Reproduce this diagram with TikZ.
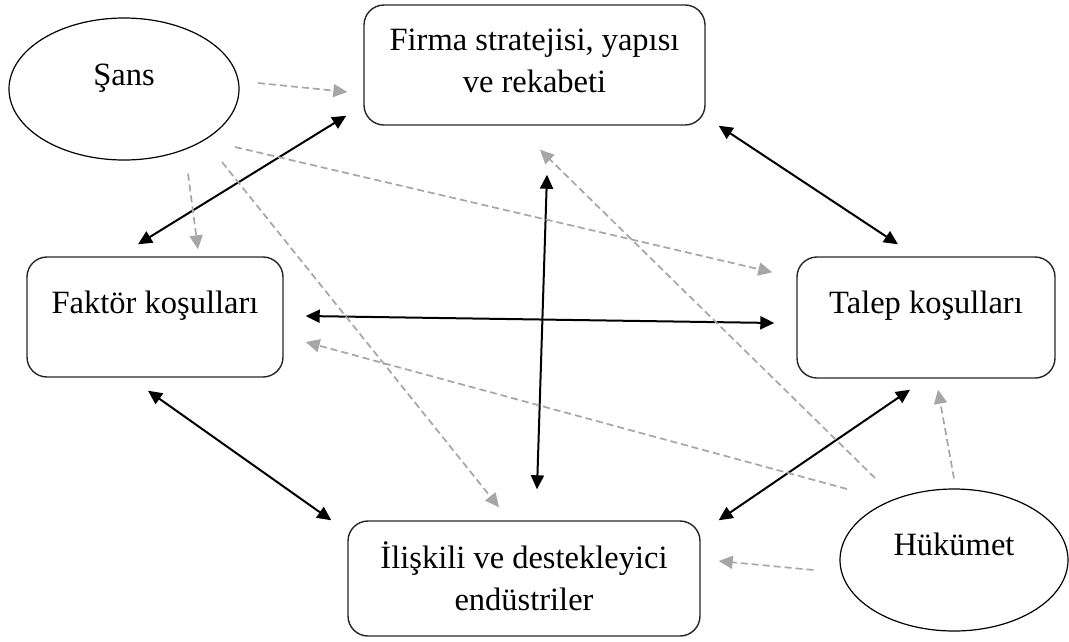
\documentclass[tikz,border=0pt]{standalone}
\usepackage{fontspec}
\setmainfont{Liberation Serif}
\usepackage{tikz}
\usetikzlibrary{shapes.geometric, arrows.meta}

\definecolor{lightgrey}{RGB}{166,166,166}

\begin{document}
\begin{tikzpicture}[
  x=1pt, y=-1pt,
  box/.style={rectangle, draw=black!85, rounded corners=20pt, line width=1.4pt,
             inner sep=0pt, align=center, font=\fontsize{32.5}{42}\selectfont},
  ovalbox/.style={ellipse, draw=black, line width=1.2pt, inner sep=0pt,
             minimum width=230pt, minimum height=142pt,
             font=\fontsize{32.5}{42}\selectfont},
  arrow/.style={{Triangle[length=14pt,width=13pt]}-{Triangle[length=14pt,width=13pt]},
             line width=2pt, color=black},
  dasharrow/.style={-{Triangle[length=14pt,width=13pt]}, line width=1.7pt,
             color=lightgrey, dash pattern=on 7pt off 4pt}
]
\useasboundingbox (0,0) rectangle (1069,641);

\node[box, minimum width=341pt, text height=87pt, text depth=33pt] (firma) at (534.5,65)
  {Firma stratejisi, yapısı\\ve rekabeti};
\node[box, minimum width=256pt, text height=56pt, text depth=64pt] (faktor) at (155,317)
  {Faktör koşulları};
\node[box, minimum width=258pt, text height=56pt, text depth=65pt] (talep) at (926,317.5)
  {Talep koşulları};
\node[box, minimum width=352pt, text height=89pt, text depth=26pt] (iliskili) at (524,578.5)
  {İlişkili ve destekleyici\\endüstriler};
\node[ovalbox, text height=20pt, text depth=28pt] (sans) at (124,89) {Şans};
\node[ovalbox, minimum width=228pt, text height=22pt, text depth=32pt] (hukumet) at (954,560) {Hükümet};

% karsilikli etkilesimler
\draw[arrow] ([shift={(-17,-10)}]firma.south west) -- ([shift={(-17,-12)}]faktor.north);
\draw[arrow] ([shift={(13,0)}]firma.south east) -- ([shift={(-28,-12)}]talep.north);
\draw[arrow] ([shift={(12.5,49)}]firma.south) -- ([shift={(13,-31)}]iliskili.north);
\draw[arrow] ([shift={(22,-1)}]faktor.east) -- ([shift={(-22,5.5)}]talep.west);
\draw[arrow] ([shift={(-7,13)}]faktor.south) -- ([shift={(-16,0)}]iliskili.north west);
\draw[arrow] ([shift={(-16,11)}]talep.south) -- ([shift={(18,0)}]iliskili.north east);

% sans
\draw[dasharrow] ([shift={(134,-6)}]sans.center) -- ([shift={(-16,27)}]firma.west);
\draw[dasharrow] ([shift={(64,13)}]sans.south) -- ([shift={(43,-7)}]faktor.north);
\draw[dasharrow] ([shift={(111,58)}]sans.center) -- ([shift={(-24,16)}]talep.north west);
\draw[dasharrow] ([shift={(98,73)}]sans.center) -- ([shift={(-25,-13)}]iliskili.north);

% hukumet
\draw[dasharrow] ([shift={(-79,-82)}]hukumet.center) -- ([shift={(5.5,24)}]firma.south);
\draw[dasharrow] ([shift={(-107,-71)}]hukumet.center) -- ([shift={(22,25)}]faktor.east);
\draw[dasharrow] ([shift={(0,-10)}]hukumet.north) -- ([shift={(12,11)}]talep.south);
\draw[dasharrow] ([shift={(-26,10)}]hukumet.west) -- ([shift={(18,-17.5)}]iliskili.east);

\end{tikzpicture}
\end{document}
